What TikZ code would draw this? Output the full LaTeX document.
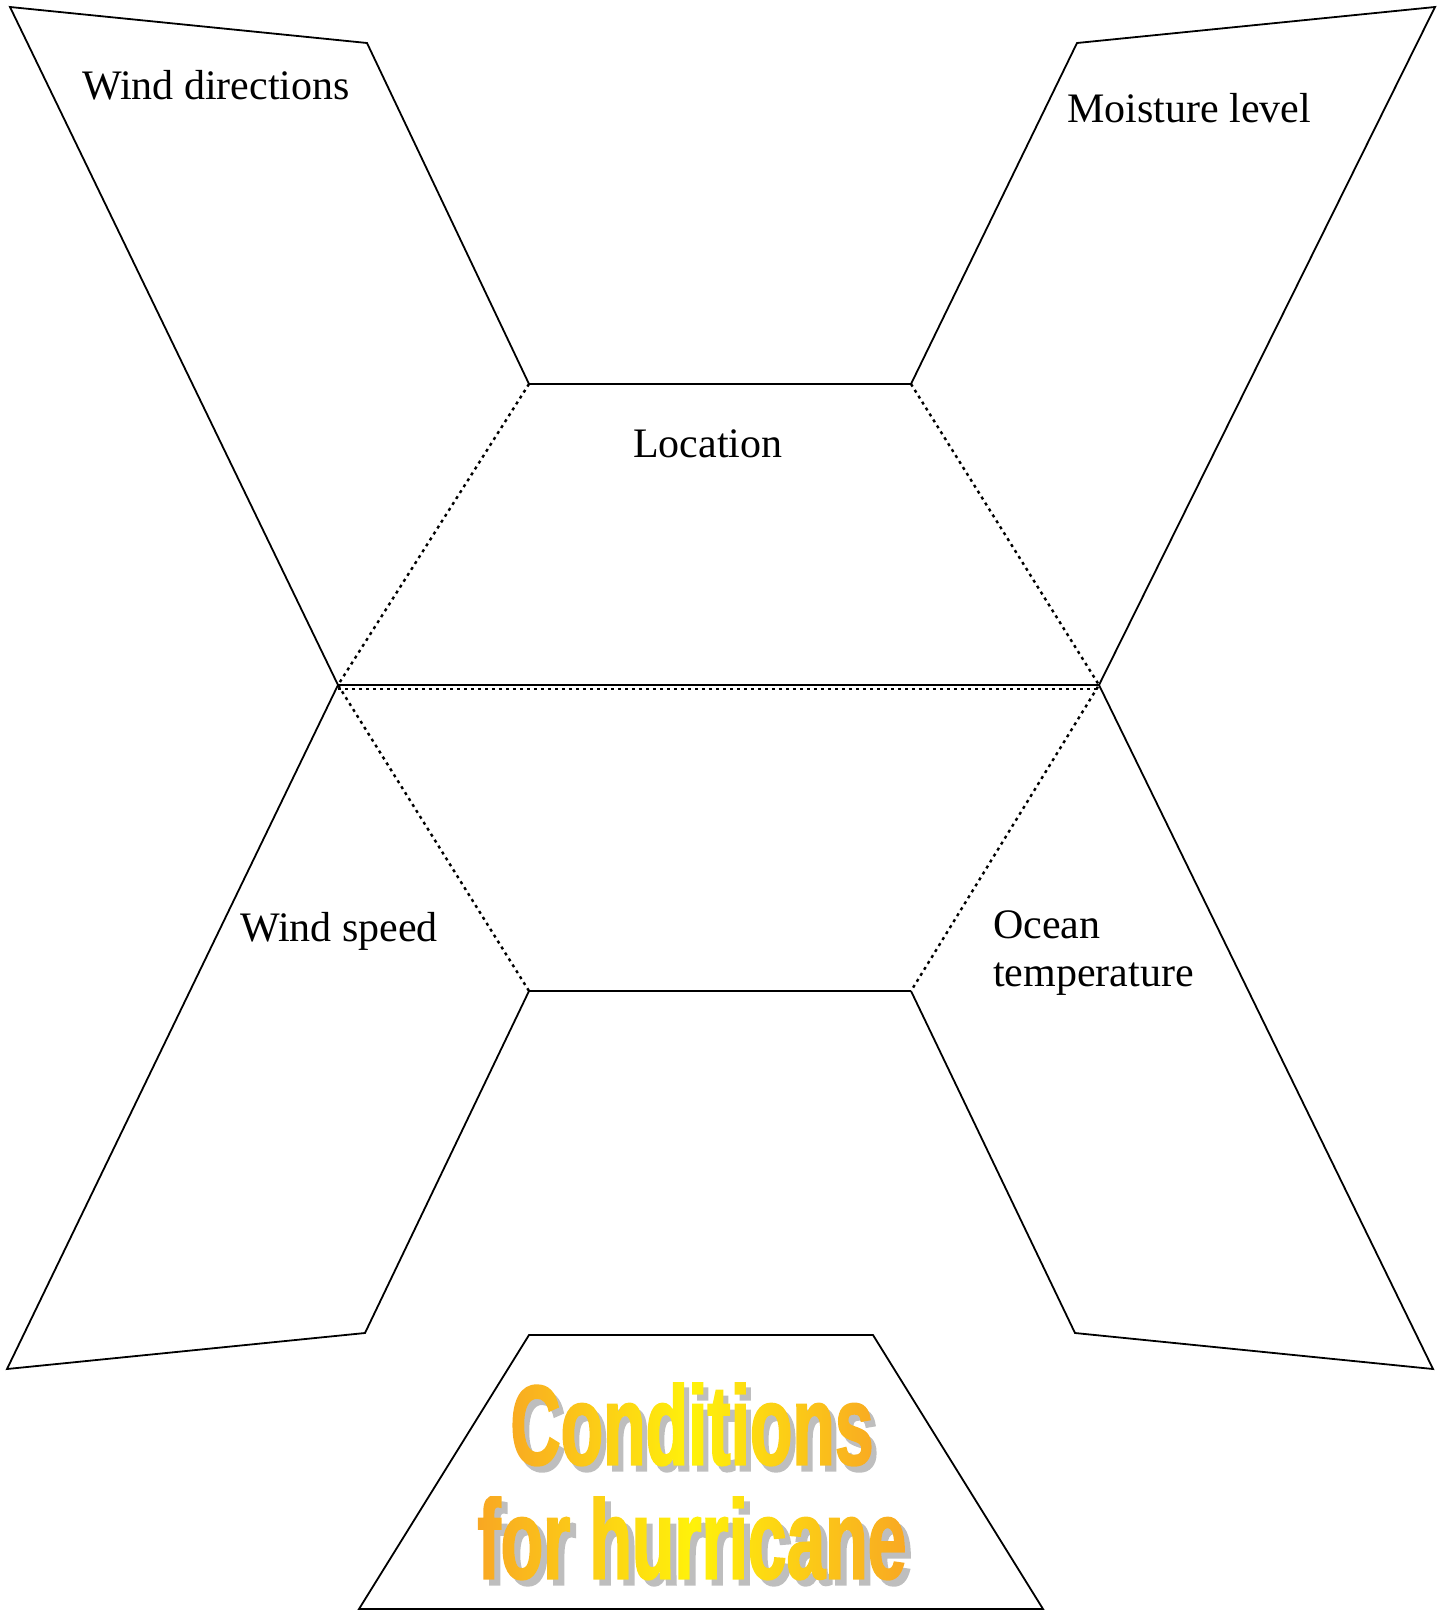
\documentclass[tikz,border=0pt]{standalone}
\usepackage{fontspec}
\setmainfont{Liberation Serif}
\newfontfamily\titlefont[FakeStretch=0.61,FakeBold=1.5]{Liberation Sans}
\usetikzlibrary{fadings}
\definecolor{tOrange}{RGB}{247,152,40}
\definecolor{tYellow}{RGB}{255,242,10}
\definecolor{tShadow}{RGB}{190,190,190}
\begin{document}
\pgfdeclarefading{condfade}{\color{white}\titlefont\bfseries\fontsize{114}{120}\selectfont Conditions}
\pgfdeclarefading{hurrfade}{\color{white}\titlefont\bfseries\fontsize{114}{120}\selectfont for hurricane}
\begin{tikzpicture}[x=1pt,y=-1pt,
  outline/.style={line width=1.8pt, line join=miter},
  foldline/.style={line width=2.4pt, dash pattern=on 3pt off 4pt},
  lbl/.style={anchor=base west, inner sep=0pt, font=\fontsize{42}{48}\selectfont},
  titleshadow/.style={inner sep=0pt, text=tShadow, font=\titlefont\bfseries\fontsize{114}{120}\selectfont},
  titlefill/.style={left color=tOrange, right color=tOrange, middle color=tYellow}
]
\useasboundingbox (0,0) rectangle (1442,1614);
% corner points
\coordinate (TLa) at (10,7);
\coordinate (TLb) at (367,43);
\coordinate (CTL) at (529,384);
\coordinate (CTR) at (911,384);
\coordinate (TRa) at (1077,43);
\coordinate (TRb) at (1435,7);
\coordinate (CL) at (338,685);
\coordinate (CR) at (1099,685);
\coordinate (CBL) at (529,991);
\coordinate (CBR) at (911,991);
\coordinate (BLa) at (7,1369);
\coordinate (BLb) at (365,1333);
\coordinate (BRa) at (1075,1333);
\coordinate (BRb) at (1433,1369);
\coordinate (BTa) at (529,1335);
\coordinate (BTb) at (873,1335);
\coordinate (BTc) at (1043,1609);
\coordinate (BTd) at (359,1609);
% flaps
\draw[outline] (CL) -- (TLa) -- (TLb) -- (CTL);
\draw[outline] (CTR) -- (TRa) -- (TRb) -- (CR);
\draw[outline] (CL) -- (BLa) -- (BLb) -- (CBL);
\draw[outline] (CBR) -- (BRa) -- (BRb) -- (CR);
% centre hexagon
\draw[outline] (CTL) -- (CTR);
\draw[outline] (CBL) -- (CBR);
\draw[foldline] (CTL) -- (CL) -- (CBL);
\draw[foldline] (CTR) -- (CR) -- (CBR);
\draw[outline] (CL) -- (CR);
\draw[foldline] ([yshift=-4pt]CL) -- ([yshift=-4pt]CR);
% bottom trapezoid
\draw[outline] (BTa) -- (BTb) -- (BTc) -- (BTd) -- cycle;
% labels
\node[lbl] (wd) at (82,99) {Wind directions};
\node[lbl] (ml) at (1067,122) {Moisture level};
\node[lbl] (loc) at (633,457) {Location};
\node[lbl] (ws) at (240,941) {Wind speed};
\node[lbl, align=left] (ot) at (993,986) {Ocean\\temperature};
% title
\node[titleshadow] (t1s) at (697,1430) {Conditions};
\node[titleshadow] (t2s) at (698,1544) {for hurricane};
\shade[titlefill, path fading=condfade, fit fading=false,
  fading transform={shift={(692,1424)}}] (462,1354) rectangle (922,1494);
\shade[titlefill, path fading=hurrfade, fit fading=false,
  fading transform={shift={(692,1538)}}] (433,1468) rectangle (953,1608);
\end{tikzpicture}
\end{document}
